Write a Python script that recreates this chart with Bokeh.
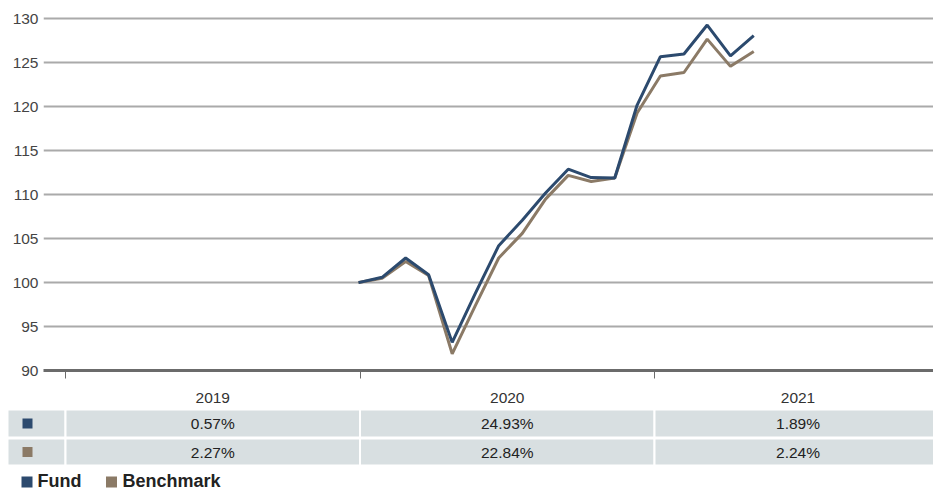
from bokeh.plotting import figure
from bokeh.models import Range1d, FixedTicker
from bokeh.layouts import column
from bokeh.embed import file_html
from bokeh.resources import INLINE
from bokeh.core.properties import value

# ---------------- data ----------------
x_years = [2019.995, 2020.075, 2020.155, 2020.233, 2020.313, 2020.392, 2020.471,
           2020.551, 2020.630, 2020.707, 2020.785, 2020.865, 2020.941, 2021.020,
           2021.100, 2021.179, 2021.258, 2021.337]
fund = [100.0, 100.6, 102.8, 100.9, 93.2, 98.8, 104.2, 107.1, 110.2, 112.9,
        111.95, 111.9, 120.2, 125.7, 126.0, 129.3, 125.8, 128.1]
bench = [100.0, 100.5, 102.4, 100.8, 91.9, 97.4, 102.8, 105.6, 109.5, 112.2,
         111.5, 111.9, 119.3, 123.5, 123.9, 127.7, 124.6, 126.3]
y_ticks = [90, 95, 100, 105, 110, 115, 120, 125, 130]
year_starts = [2019, 2020, 2021]
year_labels = ["2019", "2020", "2021"]
fund_returns = ["0.57%", "24.93%", "1.89%"]
bench_returns = ["2.27%", "22.84%", "2.24%"]
series_names = ["Fund", "Benchmark"]
series_colors = ["#2c4a6e", "#8b7a66"]

FONT = "Liberation Sans"
W = 933
PX_PER_YEAR = 294.5


def px2yr(refx):
    return 2019 + (refx - 65) / PX_PER_YEAR


X_END = px2yr(W)

# ---------------- chart ----------------
p = figure(width=W, height=386, output_backend="svg", toolbar_location=None,
           x_range=Range1d(px2yr(43), X_END), y_range=Range1d(90, 130.5),
           min_border_left=43, min_border_right=0, min_border_top=14,
           min_border_bottom=16)
p.outline_line_color = None
p.background_fill_color = "white"
p.border_fill_color = "white"

p.xgrid.visible = False
p.ygrid.ticker = FixedTicker(ticks=y_ticks)
p.ygrid.grid_line_color = "#aaaaaa"
p.ygrid.grid_line_width = 2

p.yaxis.ticker = FixedTicker(ticks=y_ticks)
p.yaxis.axis_line_color = None
p.yaxis.major_tick_line_color = None
p.yaxis.minor_tick_line_color = None
p.yaxis.major_tick_out = 0
p.yaxis.major_tick_in = 0
p.yaxis.major_label_standoff = 5
p.yaxis.major_label_text_font = FONT
p.yaxis.major_label_text_font_size = "15.5px"
p.yaxis.major_label_text_color = "#444444"

p.xaxis.ticker = FixedTicker(ticks=year_starts)
p.xaxis.axis_line_color = "#6b6b6b"
p.xaxis.axis_line_width = 3
p.xaxis.major_tick_line_color = "#6b6b6b"
p.xaxis.major_tick_line_width = 1
p.xaxis.major_tick_out = 8
p.xaxis.major_tick_in = 0
p.xaxis.minor_tick_line_color = None
p.xaxis.major_label_overrides = {y: "" for y in year_starts}
p.xaxis.major_label_standoff = 0

p.line(x_years, bench, line_color=series_colors[1], line_width=3)
p.line(x_years, fund, line_color=series_colors[0], line_width=3)

# ---------------- table + legend ----------------
t = figure(width=W, height=104, output_backend="svg", toolbar_location=None,
           x_range=Range1d(px2yr(0), X_END), y_range=Range1d(104, 0),
           min_border=0, x_axis_location=None, y_axis_location=None)
t.outline_line_color = None
t.xgrid.visible = False
t.ygrid.visible = False
t.background_fill_color = "white"
t.border_fill_color = "white"

for fig in (p, t):
    if "frame_align" in fig.properties():
        fig.frame_align = False

col_lefts = [px2yr(7)] + year_starts
col_rights = year_starts + [X_END + 1]
row_tops = [23, 52]
row_bottoms = [51, 79]
for rt, rb in zip(row_tops, row_bottoms):
    t.quad(left=col_lefts, right=col_rights, top=rt, bottom=rb,
           fill_color="#d8dfe1", line_color="white", line_width=2)

centers = [(a + b) / 2 for a, b in zip(year_starts, year_starts[1:] + [px2yr(941)])]
t.text(x=centers, y=[11] * 3, text=year_labels, text_font=value(FONT),
       text_font_size=value("15.5px"), text_color="#333333",
       text_align="center", text_baseline="middle")
row_mid = [(a + b) / 2 for a, b in zip(row_tops, row_bottoms)]
for vals, yc in zip([fund_returns, bench_returns], row_mid):
    t.text(x=centers, y=[yc] * 3, text=vals, text_font=value(FONT),
           text_font_size=value("15.5px"), text_color="#222222",
           text_align="center", text_baseline="middle")

t.rect(x=[px2yr(27)] * 2, y=row_mid, width=10, height=10,
       width_units="screen", height_units="screen",
       fill_color=series_colors, line_color=None)

# legend
t.rect(x=[px2yr(26.5), px2yr(111)], y=[95.5, 95.5], width=11, height=11,
       width_units="screen", height_units="screen",
       fill_color=series_colors, line_color=None)
t.text(x=[px2yr(37), px2yr(122)], y=[94, 94], text=series_names,
       text_font=value(FONT), text_font_size=value("18px"),
       text_font_style="bold", text_color="#222222",
       text_align="left", text_baseline="middle")

layout = column(p, t, spacing=0)
open("out.html", "w").write(file_html(layout, INLINE))
